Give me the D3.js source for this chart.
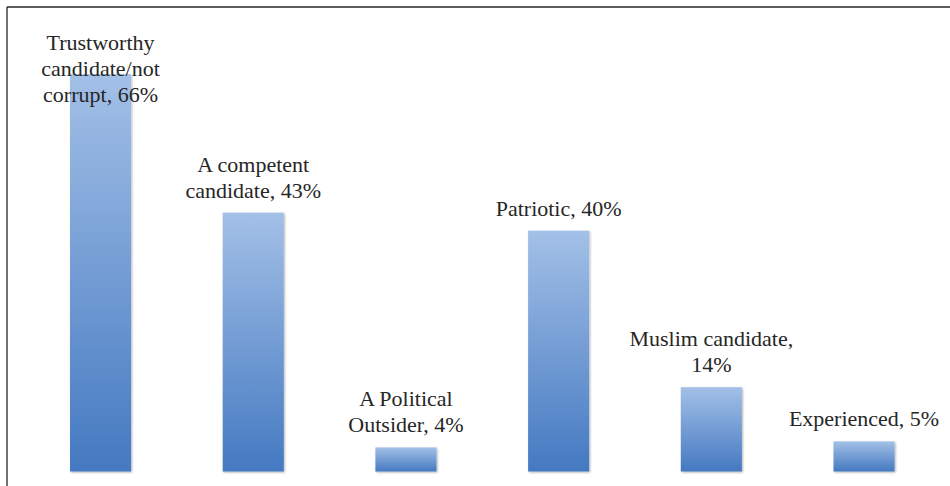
<!DOCTYPE html>
<html>
<head>
<meta charset="utf-8">
<script src="https://cdn.jsdelivr.net/npm/d3@7"></script>
<style>
  html, body { margin: 0; padding: 0; background: #fff; }
  svg { display: block; }
</style>
</head>
<body>
<svg id="chart" width="950" height="486"></svg>
<script>
const categories = ["Trustworthy candidate/not corrupt", "A competent candidate", "A Political Outsider", "Patriotic", "Muslim candidate", "Experienced"];
const values = [66, 43, 4, 40, 14, 5];
const labelLines = [
  ["Trustworthy", "candidate/not", "corrupt, 66%"],
  ["A competent", "candidate, 43%"],
  ["A Political", "Outsider, 4%"],
  ["Patriotic, 40%"],
  ["Muslim candidate,", "14%"],
  ["Experienced, 5%"]
];

const W = 950, H = 486;
const svg = d3.select("#chart");

const defs = svg.append("defs");
const grad = defs.append("linearGradient")
  .attr("id", "barGrad").attr("x1", 0).attr("y1", 0).attr("x2", 0).attr("y2", 1);
grad.append("stop").attr("offset", "0%").attr("stop-color", "#a3c0e7");
grad.append("stop").attr("offset", "100%").attr("stop-color", "#4479c1");

const shadow = defs.append("filter").attr("id", "shadow")
  .attr("x", "-10%").attr("y", "-10%").attr("width", "130%").attr("height", "130%");
shadow.append("feDropShadow").attr("dx", 1).attr("dy", 1).attr("stdDeviation", 0.8)
  .attr("flood-color", "#000").attr("flood-opacity", 0.3);

const x = d3.scaleBand()
  .domain(categories)
  .range([24.2, 940.4])
  .paddingInner(0.6)
  .paddingOuter(0.3);

const y = d3.scaleLinear().domain([0, 70]).range([471.5, 50.1]);

// frame (top and left edges visible)
svg.append("line").attr("x1", 7).attr("x2", W).attr("y1", 7).attr("y2", 7)
  .attr("stroke", "#262626").attr("stroke-width", 1.3);
svg.append("line").attr("x1", 7).attr("x2", 7).attr("y1", 7).attr("y2", H)
  .attr("stroke", "#262626").attr("stroke-width", 1.3);

svg.append("g").selectAll("rect")
  .data(categories)
  .join("rect")
  .attr("x", d => x(d))
  .attr("y", (d, i) => y(values[i]))
  .attr("width", x.bandwidth())
  .attr("height", (d, i) => y(0) - y(values[i]))
  .attr("fill", "url(#barGrad)")
  .attr("filter", "url(#shadow)");

const lh = 26, gap = 15, minFirst = 50;
const lg = svg.append("g");

categories.forEach((c, i) => {
  const lines = labelLines[i];
  let last = y(values[i]) - gap;
  let first = last - (lines.length - 1) * lh;
  if (first < minFirst) first = minFirst;
  const cx = x(c) + x.bandwidth() / 2;
  const t = lg.append("text")
    .attr("x", cx)
    .style("font-family", '"Liberation Serif", "Times New Roman", serif')
    .style("font-size", "22px")
    .style("fill", "#262626")
    .style("text-anchor", "middle");
  lines.forEach((ln, j) => {
    t.append("tspan").attr("x", cx).attr("y", first + j * lh).text(ln);
  });
});
</script>
</body>
</html>
